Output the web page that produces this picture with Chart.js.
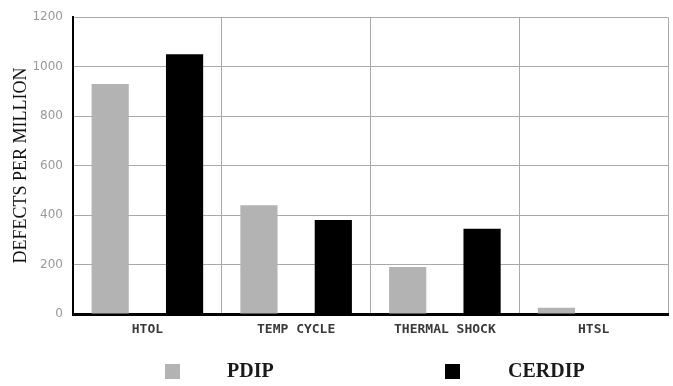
<!DOCTYPE html>
<html>
<head>
<meta charset="utf-8">
<script src="https://cdn.jsdelivr.net/npm/chart.js@4"></script>
<style>
  html, body { margin: 0; padding: 0; background: #fff; }
  #wrap { width: 673px; height: 386px; position: relative; }
</style>
</head>
<body>
<div id="wrap"><canvas id="c" width="673" height="386"></canvas></div>
<script>
const categories = ["HTOL", "TEMP CYCLE", "THERMAL SHOCK", "HTSL"];
const seriesNames = ["PDIP", "CERDIP"];
const pdipValues = [930, 440, 190, 25];
const cerdipValues = [1050, 380, 345, 2];
const yTicks = [0, 200, 400, 600, 800, 1000, 1200];
const yTitle = "DEFECTS PER MILLION";

const colors = ["#b3b3b3", "#000000"];

const legendPlugin = {
  id: 'customLegend',
  afterDraw(chart) {
    const ctx = chart.ctx;
    const boxX = [165, 445];
    const textX = [227, 508];
    const y = 372;
    ctx.save();
    chart.data.datasets.forEach((ds, i) => {
      ctx.fillStyle = ds.backgroundColor;
      ctx.fillRect(boxX[i], y - 8, 15, 15);
      ctx.fillStyle = "#1a1a1a";
      ctx.font = "bold 20px 'Liberation Serif', serif";
      ctx.textBaseline = "middle";
      ctx.textAlign = "left";
      ctx.fillText(ds.label, textX[i], y);
    });
    ctx.restore();
  }
};

new Chart(document.getElementById('c'), {
  type: 'bar',
  data: {
    labels: categories,
    datasets: [
      { label: seriesNames[0], data: pdipValues, backgroundColor: colors[0], borderWidth: 0 },
      { label: seriesNames[1], data: cerdipValues, backgroundColor: colors[1], borderWidth: 0 }
    ]
  },
  options: {
    responsive: false,
    animation: false,
    devicePixelRatio: 1,
    categoryPercentage: 1.0,
    barPercentage: 0.5,
    layout: { padding: { top: 15, right: 5, left: 0, bottom: 0 } },
    plugins: {
      legend: { display: false },
      tooltip: { enabled: false }
    },
    scales: {
      x: {
        grid: { color: "#aaaaaa", lineWidth: 1, drawTicks: false },
        border: { color: "#000000", width: 3 },
        ticks: {
          color: "#3a3a3a",
          font: { family: "'DejaVu Sans Mono', monospace", size: 13, weight: "bold" },
          padding: 8,
          maxRotation: 0
        },
        afterFit(scale) { scale.height = 72; }
      },
      y: {
        min: 0,
        max: 1200,
        afterBuildTicks(scale) { scale.ticks = yTicks.map(v => ({ value: v })); },
        grid: { color: "#aaaaaa", lineWidth: 1, drawTicks: false },
        border: { color: "#000000", width: 2 },
        ticks: {
          color: "#999999",
          font: { family: "'DejaVu Sans', sans-serif", size: 12 },
          padding: 10,
          callback: (v) => String(v)
        },
        title: {
          display: true,
          text: yTitle,
          color: "#111111",
          font: { family: "'Liberation Serif', serif", size: 18 },
          padding: { top: 10, bottom: 0 }
        },
        afterFit(scale) { scale.width = 73; }
      }
    }
  },
  plugins: [legendPlugin]
});
</script>
</body>
</html>
